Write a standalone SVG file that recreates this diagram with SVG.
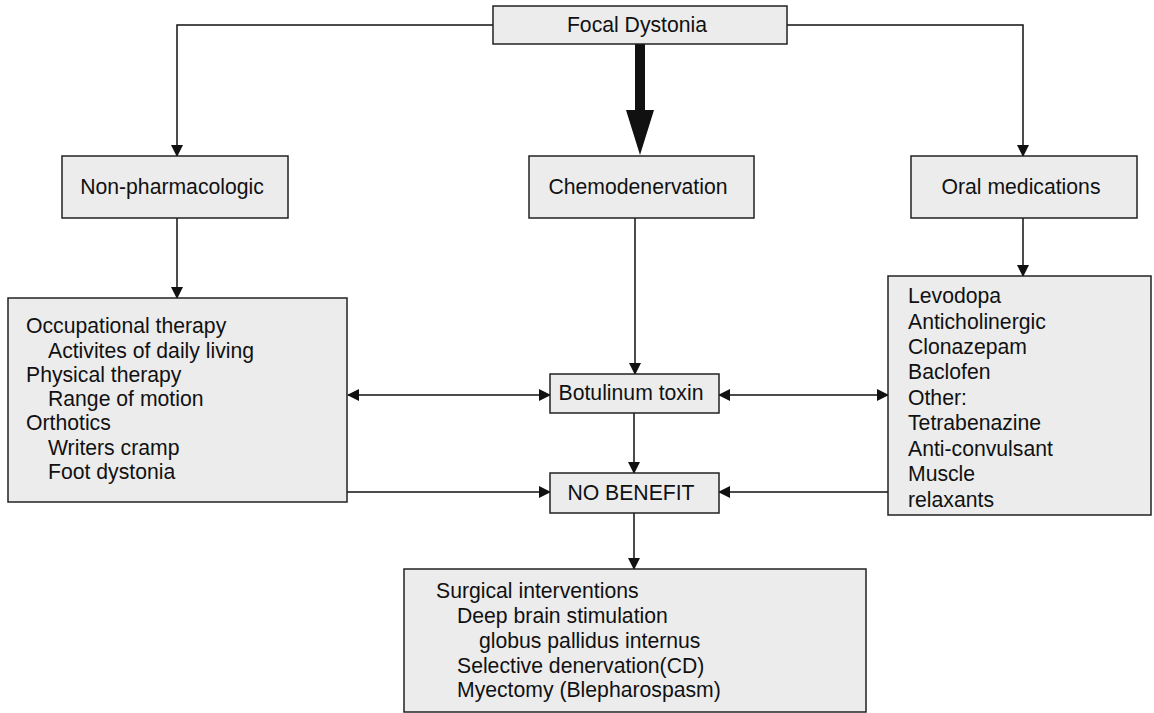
<svg xmlns="http://www.w3.org/2000/svg" width="1154" height="713" viewBox="0 0 1154 713">
<style>
.box{fill:#ececec;stroke:#222;stroke-width:1.5}
.t{font-family:"Liberation Sans",Arial,sans-serif;font-size:21.2px;fill:#111}
.c{text-anchor:middle}
.ln{fill:none;stroke:#111;stroke-width:1.5}
</style>
<defs>
<marker id="ah" markerWidth="12" markerHeight="12" refX="11" refY="6" orient="auto-start-reverse" markerUnits="userSpaceOnUse">
<path d="M0,0 L12,6 L0,12 Z" fill="#111"/>
</marker>
</defs>
<rect width="1154" height="713" fill="#fff"/>
<g id="connectors">
<path class="ln" d="M493,25 H177 V156" marker-end="url(#ah)"/>
<path class="ln" d="M787,25 H1023 V156" marker-end="url(#ah)"/>
<path d="M635,44 H645 V110 H654 L640,155 L626,110 H635 Z" fill="#111"/>
<path class="ln" d="M177,218 V298" marker-end="url(#ah)"/>
<path class="ln" d="M1023,218 V276" marker-end="url(#ah)"/>
<path class="ln" d="M635,218 V374" marker-end="url(#ah)"/>
<path class="ln" d="M348,395 H550" marker-start="url(#ah)" marker-end="url(#ah)"/>
<path class="ln" d="M719,395 H888" marker-start="url(#ah)" marker-end="url(#ah)"/>
<path class="ln" d="M634,413 V473" marker-end="url(#ah)"/>
<path class="ln" d="M347,492 H550" marker-end="url(#ah)"/>
<path class="ln" d="M888,492 H719" marker-end="url(#ah)"/>
<path class="ln" d="M634,513 V569" marker-end="url(#ah)"/>
</g>
<g id="focal">
<rect class="box" x="493" y="6" width="294" height="38"/>
<text class="t c" x="637" y="32">Focal Dystonia</text>
</g>
<g id="nonpharm">
<rect class="box" x="62" y="156" width="226" height="62"/>
<text class="t c" x="172" y="194">Non-pharmacologic</text>
</g>
<g id="chemo">
<rect class="box" x="529" y="156" width="225" height="62"/>
<text class="t c" x="638" y="194">Chemodenervation</text>
</g>
<g id="oral">
<rect class="box" x="911" y="156" width="226" height="62"/>
<text class="t c" x="1021" y="194">Oral medications</text>
</g>
<g id="nonpharm-list">
<rect class="box" x="8" y="298" width="339" height="204"/>
<text class="t" x="26" y="333">Occupational therapy</text>
<text class="t" x="48" y="358">Activites of daily living</text>
<text class="t" x="26" y="382">Physical therapy</text>
<text class="t" x="48" y="406">Range of motion</text>
<text class="t" x="26" y="430">Orthotics</text>
<text class="t" x="48" y="455">Writers cramp</text>
<text class="t" x="48" y="479">Foot dystonia</text>
</g>
<g id="oral-list">
<rect class="box" x="888" y="276" width="263" height="239"/>
<text class="t" x="908" y="303">Levodopa</text>
<text class="t" x="908" y="329">Anticholinergic</text>
<text class="t" x="908" y="354">Clonazepam</text>
<text class="t" x="908" y="379">Baclofen</text>
<text class="t" x="908" y="405">Other:</text>
<text class="t" x="908" y="430">Tetrabenazine</text>
<text class="t" x="908" y="456">Anti-convulsant</text>
<text class="t" x="908" y="481">Muscle</text>
<text class="t" x="908" y="507">relaxants</text>
</g>
<g id="botox">
<rect class="box" x="550" y="374" width="169" height="39"/>
<text class="t c" x="631" y="400">Botulinum toxin</text>
</g>
<g id="nobenefit">
<rect class="box" x="550" y="473" width="169" height="40"/>
<text class="t c" x="631" y="500">NO BENEFIT</text>
</g>
<g id="surgical">
<rect class="box" x="404" y="569" width="462" height="143"/>
<text class="t" x="436" y="598">Surgical interventions</text>
<text class="t" x="457" y="623">Deep brain stimulation</text>
<text class="t" x="479" y="648">globus pallidus internus</text>
<text class="t" x="457" y="673">Selective denervation(CD)</text>
<text class="t" x="457" y="697">Myectomy (Blepharospasm)</text>
</g>
</svg>
